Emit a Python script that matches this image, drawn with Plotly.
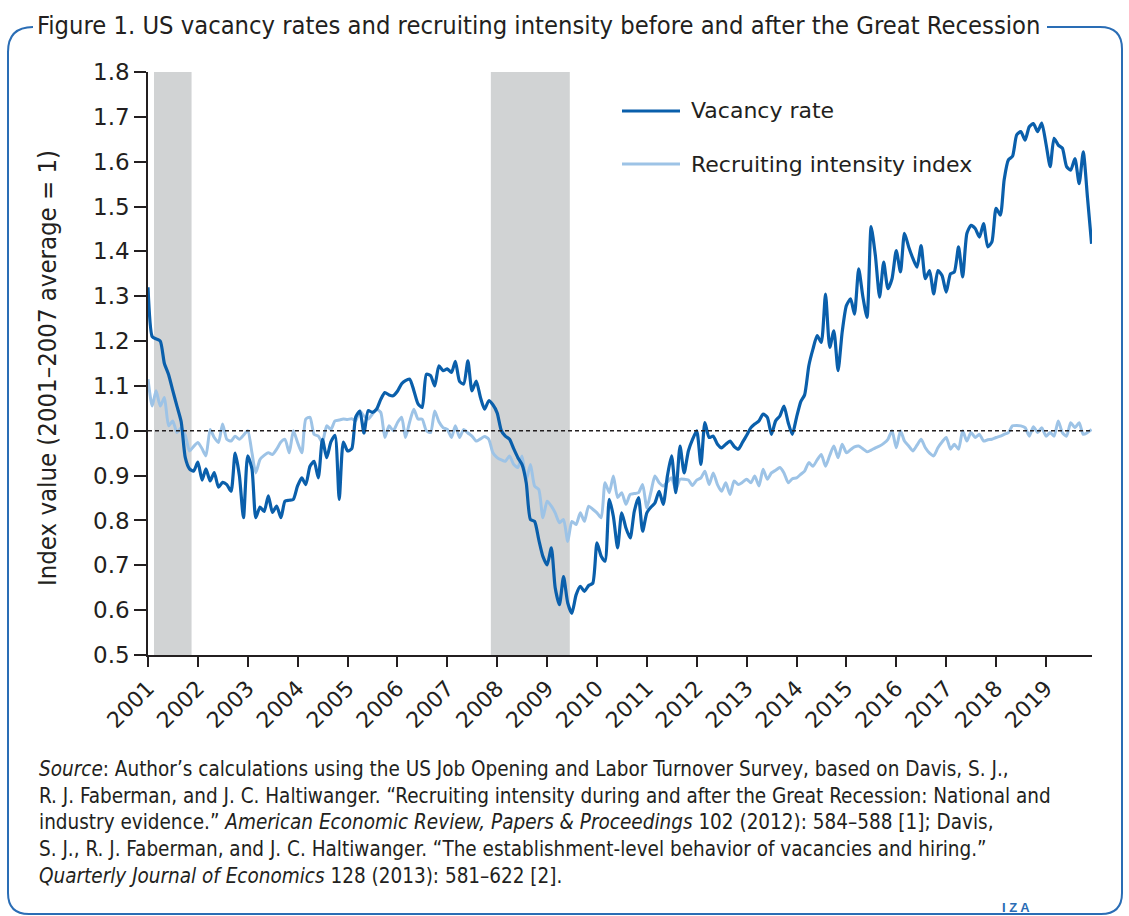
import pandas as pd
import plotly.graph_objects as go

# ---------------- data (monthly, Jan 2001 - Dec 2019) ----------------
VACANCY_RATE = [
    # 2001
    1.32, 1.21, 1.205, 1.20, 1.15, 1.125, 1.09, 1.055, 1.02, 0.94, 0.915, 0.91,
    # 2002
    0.93, 0.89, 0.915, 0.888, 0.907, 0.874, 0.885, 0.88, 0.865, 0.95, 0.90, 0.806,
    # 2003
    0.944, 0.915, 0.806, 0.83, 0.82, 0.855, 0.818, 0.832, 0.806, 0.843, 0.845, 0.847,
    # 2004
    0.877, 0.895, 0.88, 0.921, 0.932, 0.895, 0.981, 0.94, 0.975, 0.99, 0.847, 0.975,
    # 2005
    0.955, 0.96, 1.03, 1.044, 0.995, 1.045, 1.041, 1.048, 1.07, 1.085, 1.08, 1.078,
    # 2006
    1.088, 1.105, 1.112, 1.115, 1.09, 1.06, 1.052, 1.126, 1.123, 1.10, 1.145, 1.134,
    # 2007
    1.138, 1.13, 1.155, 1.11, 1.104, 1.156, 1.089, 1.111, 1.074, 1.048, 1.067, 1.058,
    # 2008
    1.04, 1.00, 0.988, 0.981, 0.96, 0.94, 0.925, 0.884, 0.802, 0.798, 0.757, 0.72,
    # 2009
    0.701, 0.739, 0.65, 0.612, 0.675, 0.616, 0.593, 0.634, 0.653, 0.642, 0.655, 0.66,
    # 2010
    0.75, 0.72, 0.709, 0.847, 0.809, 0.739, 0.817, 0.783, 0.761, 0.82, 0.851, 0.776,
    # 2011
    0.817, 0.83, 0.839, 0.865, 0.836, 0.90, 0.944, 0.862, 0.966, 0.906, 0.955, 0.98,
    # 2012
    1.0, 0.925, 1.018, 0.985, 0.988, 0.97, 0.962, 0.97, 0.977, 0.965, 0.959, 0.974,
    # 2013
    0.99, 1.007, 1.015, 1.022, 1.037, 1.03, 0.992, 1.022, 1.033, 1.055, 1.018, 0.992,
    # 2014
    1.03, 1.065, 1.08, 1.145, 1.182, 1.212, 1.197, 1.305, 1.186, 1.223, 1.134, 1.22,
    # 2015
    1.279, 1.294, 1.26, 1.361, 1.30, 1.253, 1.455, 1.391, 1.298, 1.376, 1.317, 1.339,
    # 2016
    1.402, 1.354, 1.44, 1.41, 1.385, 1.365, 1.413, 1.339, 1.357, 1.305, 1.357, 1.346,
    # 2017
    1.309, 1.35, 1.354, 1.41, 1.343, 1.44, 1.458, 1.451, 1.432, 1.462, 1.41, 1.421,
    # 2018
    1.496, 1.481, 1.56, 1.604, 1.612, 1.66, 1.667, 1.648, 1.678, 1.685, 1.667, 1.686,
    # 2019
    1.64, 1.589, 1.652, 1.637, 1.63, 1.589, 1.581, 1.607, 1.551, 1.622, 1.52, 1.417,
]

RECRUITING_INTENSITY = [
    # 2001
    1.115, 1.055, 1.089, 1.055, 1.074, 1.011, 1.022, 0.996, 1.007, 0.99, 0.955, 0.965,
    # 2002
    0.974, 0.96, 0.944, 1.003, 0.985, 0.974, 1.015, 0.981, 0.977, 0.988, 0.981, 0.99,
    # 2003
    1.0, 0.951, 0.906, 0.936, 0.945, 0.951, 0.947, 0.959, 0.975, 0.981, 0.951, 1.0,
    # 2004
    0.974, 0.951, 1.026, 1.03, 0.992, 0.988, 0.974, 1.011, 1.003, 1.022, 1.024, 1.026,
    # 2005
    1.025, 1.027, 1.022, 1.044, 1.033, 1.026, 1.037, 1.048, 1.041, 0.985, 1.011, 1.0,
    # 2006
    1.018, 1.03, 0.985, 1.02, 1.048, 1.026, 1.026, 1.0, 0.996, 1.044, 1.02, 1.007,
    # 2007
    1.003, 0.985, 1.011, 0.985, 1.003, 0.995, 0.988, 0.977, 0.982, 0.987, 0.981, 0.951,
    # 2008
    0.94, 0.935, 0.932, 0.944, 0.925, 0.918, 0.944, 0.891, 0.925, 0.877, 0.869, 0.806,
    # 2009
    0.843, 0.832, 0.817, 0.795, 0.802, 0.753, 0.798, 0.791, 0.817, 0.798, 0.832, 0.825,
    # 2010
    0.817, 0.806, 0.884, 0.862, 0.899, 0.851, 0.862, 0.836, 0.858, 0.86, 0.862, 0.88,
    # 2011
    0.828, 0.865, 0.899, 0.884, 0.877, 0.886, 0.895, 0.869, 0.892, 0.892, 0.89, 0.878,
    # 2012
    0.89, 0.895, 0.91, 0.88, 0.906, 0.88, 0.865, 0.884, 0.858, 0.888, 0.88, 0.885,
    # 2013
    0.892, 0.884, 0.899, 0.877, 0.914, 0.892, 0.906, 0.912, 0.918, 0.906, 0.884, 0.893,
    # 2014
    0.895, 0.903, 0.91, 0.929, 0.921, 0.935, 0.947, 0.921, 0.945, 0.966, 0.94, 0.97,
    # 2015
    0.951, 0.958, 0.964, 0.966, 0.96, 0.953, 0.957, 0.962, 0.966, 0.972, 0.981, 1.0,
    # 2016
    0.962, 1.0, 0.977, 0.966, 0.955, 0.968, 0.981, 0.962, 0.95, 0.944, 0.962, 0.975,
    # 2017
    0.985, 0.959, 0.97, 0.959, 1.0, 0.977, 0.996, 0.985, 0.992, 0.977, 0.98, 0.981,
    # 2018
    0.985, 0.988, 0.992, 0.996, 1.011, 1.012, 1.011, 1.007, 0.988, 1.009, 0.996, 1.007,
    # 2019
    0.988, 0.996, 0.988, 1.022, 0.996, 0.988, 1.018, 1.007, 1.018, 0.992, 0.996, 1.003,
]

SERIES_START = "2001-01-01"
YEAR_TICKS = list(range(2001, 2020))
RECESSIONS = [("2001-03-01", "2001-11-01"), ("2007-12-01", "2009-06-01")]
BASELINE = 1.0
Y_TICKS = [0.5, 0.6, 0.7, 0.8, 0.9, 1.0, 1.1, 1.2, 1.3, 1.4, 1.5, 1.6, 1.7, 1.8]

TITLE = "Figure 1. US vacancy rates and recruiting intensity before and after the Great Recession"
Y_TITLE = "Index value (2001\u20132007 average = 1)"
SOURCE = (
    "<i>Source</i>: Author\u2019s calculations using the US Job Opening and Labor Turnover Survey, based on Davis, S. J.,<br>"
    "R. J. Faberman, and J. C. Haltiwanger. \u201cRecruiting intensity during and after the Great Recession: National and<br>"
    "industry evidence.\u201d <i>American Economic Review, Papers &amp; Proceedings</i> 102 (2012): 584\u2013588 [1]; Davis,<br>"
    "S. J., R. J. Faberman, and J. C. Haltiwanger. \u201cThe establishment-level behavior of vacancies and hiring.\u201d<br>"
    "<i>Quarterly Journal of Economics</i> 128 (2013): 581\u2013622 [2]."
)

# ---------------- styling ----------------
DARK = "#0a5fab"
LIGHT = "#9dc3e6"
TEXT = "#231f20"
FRAME = "#2a6db5"
SHADE = "#d1d3d4"
NARROW = "DejaVu Sans Condensed, Liberation Sans Narrow, sans-serif"
WIDE = "DejaVu Sans, Verdana, sans-serif"

W, H = 1129, 916
ML, MR, MT, MB = 148, 37, 72, 261
PW, PH = W - ML - MR, H - MT - MB


def px(x):
    return (x - ML) / PW


def py(y):
    return (H - MB - y) / PH


dates = pd.date_range(SERIES_START, periods=len(VACANCY_RATE), freq="MS")

fig = go.Figure()
fig.add_trace(go.Scatter(
    x=dates, y=RECRUITING_INTENSITY, mode="lines", name="Recruiting intensity index",
    line=dict(color=LIGHT, width=3, shape="spline", smoothing=0.6), showlegend=False,
))
fig.add_trace(go.Scatter(
    x=dates, y=VACANCY_RATE, mode="lines", name="Vacancy rate",
    line=dict(color=DARK, width=3.2, shape="spline", smoothing=0.6), showlegend=False,
))

shapes = []
half = pd.Timedelta(days=15)
for a, b in RECESSIONS:
    shapes.append(dict(type="rect", xref="x", yref="paper",
                       x0=pd.Timestamp(a) - half, x1=pd.Timestamp(b) + half,
                       y0=0, y1=1, fillcolor=SHADE, line=dict(width=0), layer="below"))
shapes.append(dict(type="line", xref="paper", yref="y", x0=0, x1=1,
                   y0=BASELINE, y1=BASELINE, line=dict(color=TEXT, width=1.5, dash="4px,3px")))

# legend (drawn)
for yy, col in [(111, DARK), (164, LIGHT)]:
    shapes.append(dict(type="line", xref="paper", yref="paper",
                       x0=px(622), x1=px(680), y0=py(yy), y1=py(yy),
                       line=dict(color=col, width=3)))

# frame
frame = (
    f"M {px(1047)},{py(27)} L {px(1100)},{py(27)} "
    f"Q {px(1122)},{py(27)} {px(1122)},{py(49)} "
    f"L {px(1122)},{py(893)} Q {px(1122)},{py(914)} {px(1101)},{py(914)} "
    f"L {px(29)},{py(914)} Q {px(8)},{py(914)} {px(8)},{py(893)} "
    f"L {px(8)},{py(52)} Q {px(8)},{py(27)} {px(33)},{py(27)}"
)
shapes.append(dict(type="path", xref="paper", yref="paper", path=frame,
                   line=dict(color=FRAME, width=2)))

annotations = [
    dict(xref="paper", yref="paper", x=px(35), y=py(25), xanchor="left", yanchor="middle",
         text=TITLE, showarrow=False, font=dict(family=NARROW, size=25.3, color=TEXT)),
    dict(xref="paper", yref="paper", x=px(47), y=py(368), xanchor="center", yanchor="middle",
         text=Y_TITLE, textangle=-90, showarrow=False, font=dict(family=NARROW, size=25.5, color=TEXT)),
    dict(xref="paper", yref="paper", x=px(689), y=py(111), xanchor="left", yanchor="middle",
         text="Vacancy rate", showarrow=False, font=dict(family=WIDE, size=22, color=TEXT)),
    dict(xref="paper", yref="paper", x=px(689), y=py(164), xanchor="left", yanchor="middle",
         text="Recruiting intensity index", showarrow=False, font=dict(family=WIDE, size=22, color=TEXT)),
    dict(xref="paper", yref="paper", x=px(37), y=py(755), xanchor="left", yanchor="top",
         align="left", text=SOURCE, showarrow=False, font=dict(family=NARROW, size=20.5, color=TEXT)),
    dict(xref="paper", yref="paper", x=px(1016), y=py(907), xanchor="center", yanchor="middle",
         text="<b>I Z A</b>", showarrow=False,
         font=dict(family="Liberation Sans, Arial, sans-serif", size=13, color=FRAME)),
]

fig.update_layout(
    width=W, height=H,
    margin=dict(l=ML, r=MR, t=MT, b=MB, pad=0),
    paper_bgcolor="white", plot_bgcolor="white",
    shapes=shapes, annotations=annotations,
    showlegend=False,
    xaxis=dict(
        type="date",
        range=[pd.Timestamp(SERIES_START), pd.Timestamp("2019-12-04")],
        tickvals=[pd.Timestamp(f"{y}-01-01") for y in YEAR_TICKS],
        ticktext=[str(y) for y in YEAR_TICKS],
        tickangle=-45, ticks="outside", ticklen=10, tickwidth=1.5, tickcolor=TEXT,
        showline=True, linecolor=TEXT, linewidth=1.5, showgrid=False, zeroline=False,
        tickfont=dict(family=WIDE, size=22, color=TEXT),
    ),
    yaxis=dict(
        range=[0.5, 1.8], tickvals=Y_TICKS, ticktext=[f"{v:.1f}" for v in Y_TICKS],
        ticks="outside", ticklen=12, tickwidth=1.5, tickcolor=TEXT,
        showline=True, linecolor=TEXT, linewidth=1.5, showgrid=False, zeroline=False,
        tickfont=dict(family=WIDE, size=23, color=TEXT),
    ),
)

fig.write_html(
    "out.html",
    config={"displayModeBar": False},
    post_script="document.body.style.margin='0';document.body.style.overflow='hidden';",
)
